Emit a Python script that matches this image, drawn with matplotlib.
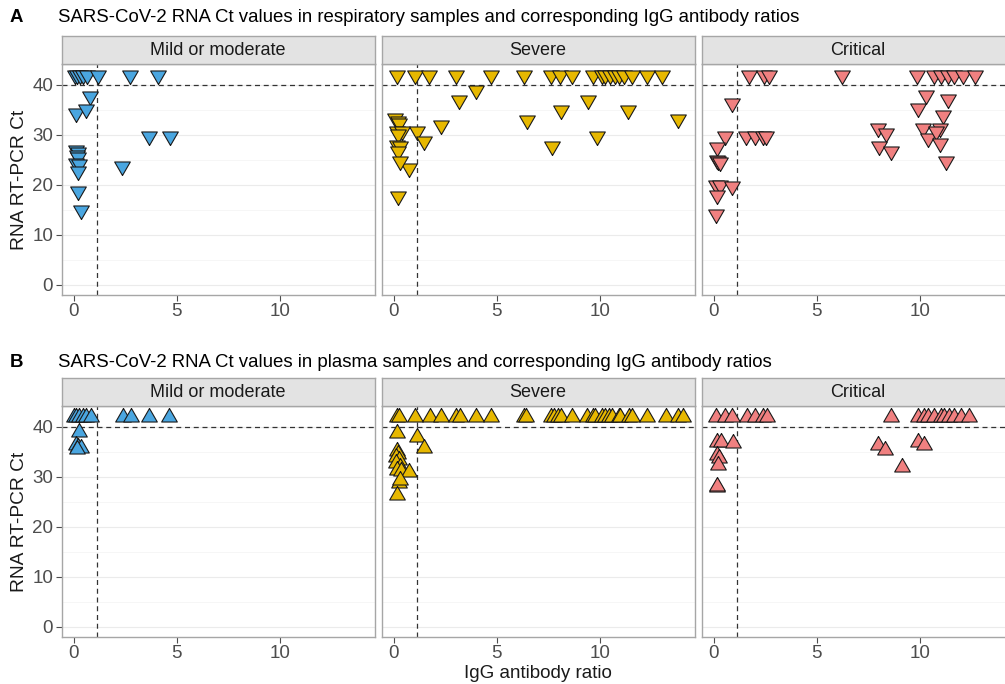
import numpy as np
import matplotlib
matplotlib.use("Agg")
import matplotlib.pyplot as plt

plt.rcParams["font.family"] = ["Liberation Sans", "DejaVu Sans"]

# ── Data ──
groups = ["Mild or moderate", "Severe", "Critical"]
colors = ["#4AA6E0", "#E7B800", "#F08080"]

# respiratory samples: (IgG ratio, Ct)  -- undetected drawn at Ct = 42
resp_mild_x = [0.05, 0.15, 0.3, 0.45, 0.65, 1.15, 2.75, 4.1,
               0.8, 0.1, 0.6, 3.65, 4.65, 2.35,
               0.1, 0.2, 0.15, 0.2, 0.1, 0.25, 0.2, 0.2, 0.35]
resp_mild_y = [42, 42, 42, 42, 42, 42, 42, 42,
               37.7, 34.3, 35.1, 29.8, 29.8, 23.7,
               27, 26.5, 26, 25.5, 24.4, 24.2, 22.7, 18.7, 15]

resp_sev_x = [0.13, 1.03, 1.73, 3.04, 4.74, 6.31, 7.65, 8.05, 8.63, 9.69,
              10.1, 10.26, 10.5, 10.75, 10.91, 11.16, 11.57, 12.3, 13.0,
              3.97, 3.15, 9.41, 8.14, 11.37, 13.82, 6.47, 2.29, 9.85, 7.68,
              1.1, 1.45, 0.75, 0.2,
              0.05, 0.2, 0.25, 0.14, 0.38, 0.2, 0.14, 0.3, 0.2, 0.3]
resp_sev_y = [42, 42, 42, 42, 42, 42, 42, 42, 42, 42,
              42, 42, 42, 42, 42, 42, 42, 42, 42,
              39, 37, 37, 35, 35, 33.1, 32.9, 32, 29.7, 27.8,
              30.7, 28.7, 23.3, 17.7,
              33.3, 32.8, 32.3, 30.7, 30.7, 30.2, 28, 27.7, 26.7, 24.7]

resp_crit_x = [1.72, 2.44, 2.70, 6.2, 9.85, 10.7, 11.02, 11.35, 11.67, 12.08, 12.68,
               0.86, 10.29, 11.35, 9.93, 11.15,
               0.54, 1.55, 2.0, 2.37, 2.54,
               7.97, 8.34, 8.02, 8.62,
               10.16, 10.99, 10.41, 10.78, 10.99, 11.27,
               0.13, 0.15, 0.22, 0.3, 0.1, 0.3, 0.86, 0.16, 0.1]
resp_crit_y = [42, 42, 42, 42, 42, 42, 42, 42, 42, 42, 42,
               36.3, 38, 37.1, 35.3, 34,
               29.7, 29.8, 29.7, 29.7, 29.8,
               31.3, 30.3, 27.7, 26.7,
               31.3, 31.3, 29.3, 30.7, 28.3, 24.8,
               27.6, 24.9, 24.8, 24.6, 20, 20, 19.7, 18, 14.2]

# plasma samples
plas_mild_x = [0.0, 0.1, 0.27, 0.45, 0.6, 0.84, 2.38, 2.78, 3.67, 4.64,
               0.27, 0.1, 0.2, 0.35, 0.15]
plas_mild_y = [42, 42, 42, 42, 42, 42, 42, 42, 42, 42,
               39, 36.3, 36, 35.7, 35.5]

plas_sev_x = [0.13, 0.26, 1.03, 1.76, 2.29, 3.04, 3.2, 3.97, 4.74, 6.34, 6.42,
              7.65, 7.8, 7.97, 8.14, 8.63, 9.36, 9.69, 9.77, 10.1, 10.26, 10.46,
              10.6, 10.91, 11.0, 11.4, 11.57, 12.3, 13.2, 13.78, 14.02,
              0.16, 1.14, 1.47, 0.15, 0.2, 0.1, 0.25, 0.1, 0.3, 0.15, 0.35,
              0.75, 0.26, 0.3, 0.14]
plas_sev_y = [42] * 31 + [38.7, 38, 35.7, 35.2, 34.5, 34, 33.3, 32.7, 32, 31.3,
                          31.2, 31, 28.7, 29.3, 26.3]

plas_crit_x = [0.1, 0.54, 0.86, 1.63, 2.0, 2.37, 2.57, 8.59, 9.89, 10.21, 10.4,
               10.7, 11.02, 11.19, 11.4, 11.67, 12.0, 12.41,
               0.13, 0.37, 0.91, 0.13, 0.26, 0.21, 0.13, 0.16,
               7.97, 8.29, 9.89, 10.21, 9.15]
plas_crit_y = [42] * 18 + [37, 37, 36.7, 34.3, 33.7, 32.3, 28, 28.2,
                           36.3, 35.3, 37, 36.3, 32]

resp = [(resp_mild_x, resp_mild_y), (resp_sev_x, resp_sev_y), (resp_crit_x, resp_crit_y)]
plasma = [(plas_mild_x, plas_mild_y), (plas_sev_x, plas_sev_y), (plas_crit_x, plas_crit_y)]

igg_cutoff = 1.1
ct_cutoff = 40

# equilateral triangles centred on the point
tri_down = [(0, -1), (0.866, 0.5), (-0.866, 0.5), (0, -1)]
tri_up = [(0, 1), (0.866, -0.5), (-0.866, -0.5), (0, 1)]

W, H = 1005, 684
fig = plt.figure(figsize=(W / 100, H / 100), dpi=100)
fig.patch.set_facecolor("white")

border = "#A6A6A6"
lefts = [61.5, 381.5, 701.5]
pw = 313


def draw_row(data, marker, panel_top, panel_bot, strip_top, ylabel=True):
    for i, (xs, ys) in enumerate(data):
        x0 = lefts[i]
        ax = fig.add_axes([x0 / W, 1 - panel_bot / H, pw / W, (panel_bot - panel_top) / H])
        ax.set_xlim(-0.6, 14.6)
        ax.set_ylim(-2.1, 44.1)
        ax.set_yticks([0, 10, 20, 30, 40])
        ax.set_xticks([0, 5, 10])
        ax.set_yticks([5, 15, 25, 35], minor=True)
        ax.grid(axis="y", which="major", color="#EBEBEB", lw=0.8)
        ax.grid(axis="y", which="minor", color="#F5F5F5", lw=0.6)
        ax.set_axisbelow(True)
        ax.axhline(ct_cutoff, color="#333333", lw=0.9, ls=(0, (4, 3)), zorder=1)
        ax.axvline(igg_cutoff, color="#333333", lw=0.9, ls=(0, (4, 3)), zorder=1)
        ax.plot(xs, ys, ls="none", marker=marker, markersize=13,
                markerfacecolor=colors[i], markeredgecolor="#1A1A1A",
                markeredgewidth=0.8, zorder=3)
        ax.tick_params(axis="both", which="major", colors="#4D4D4D", labelsize=13.5,
                       length=4, width=0.8, pad=2)
        ax.tick_params(axis="y", which="minor", length=0)
        if i > 0:
            ax.tick_params(axis="y", which="major", left=False, labelleft=False)
        elif ylabel:
            ax.set_ylabel("RNA RT-PCR Ct", fontsize=13.8, color="#1A1A1A", labelpad=3)
        for sp in ax.spines.values():
            sp.set_edgecolor(border)
            sp.set_linewidth(1.0)

        # strip
        sx = fig.add_axes([x0 / W, 1 - panel_top / H, pw / W, (panel_top - strip_top) / H])
        sx.set_facecolor("#E3E3E3")
        sx.set_xticks([])
        sx.set_yticks([])
        for sp in sx.spines.values():
            sp.set_edgecolor(border)
            sp.set_linewidth(1.0)
        sx.text(0.5, 0.47, groups[i], transform=sx.transAxes, ha="center",
                va="center", fontsize=13, color="#1A1A1A")


draw_row(resp, tri_down, 64, 295, 36)
draw_row(plasma, tri_up, 406, 637, 378)

fig.text(10 / W, 1 - 18 / H, "A", fontsize=13.4, fontweight="bold", va="center", ha="left")
fig.text(58 / W, 1 - 18 / H,
         "SARS-CoV-2 RNA Ct values in respiratory samples and corresponding IgG antibody ratios",
         fontsize=13.4, va="center", ha="left")
fig.text(10 / W, 1 - 362 / H, "B", fontsize=13.4, fontweight="bold", va="center", ha="left")
fig.text(58 / W, 1 - 362 / H,
         "SARS-CoV-2 RNA Ct values in plasma samples and corresponding IgG antibody ratios",
         fontsize=13.4, va="center", ha="left")
fig.text(538 / W, 1 - 673 / H, "IgG antibody ratio", fontsize=13.5, color="#1A1A1A",
         ha="center", va="center")

fig.savefig("out.png", dpi=100, facecolor="white")
